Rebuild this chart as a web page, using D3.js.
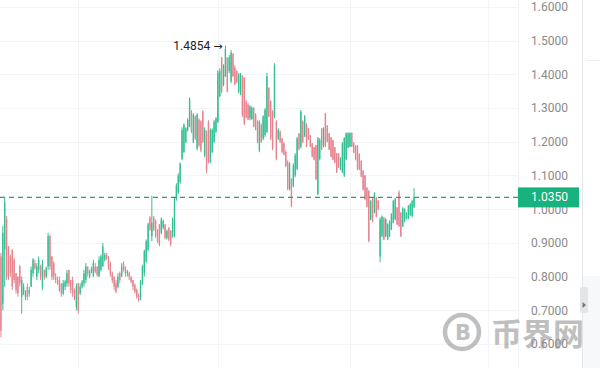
<!DOCTYPE html>
<html><head><meta charset="utf-8">
<script src="https://cdn.jsdelivr.net/npm/d3@7/dist/d3.min.js"></script>
<style>html,body{margin:0;padding:0;background:#fff;overflow:hidden}svg{display:block}</style>
</head><body>
<svg id="c" width="600" height="368"></svg>
<script>
// ---- data ----
const open = [
 .86,.72,.88,.97,.89,.86,.88,.85,.81,.80, .83,.74,.75,.74,.77,.75,.77,.81,.84,.80,
 .82,.83,.77,.82,.80,.83,.92,.86,.84,.80, .79,.79,.78,.75,.77,.78,.82,
 .79,.79,.76,.71,.78,.75,.77,.78,.79,.83, .80,.815,.80,.83,.83,.80,.82,.83,.85,.865,
 .86,.84,.81,.80,.78,.77,.81,.80,.84,.83, .81,.81,.80,.79,.775,.76,.745,
 .74,.78,.81,.845,.88,.975,.92,.975,.965,.94, .955,.93,.945,.955,.915,.945,.935,.92,.93,1.03,
 1.05,1.08,1.15,1.17,1.20,1.235,1.245,1.29,1.20,1.275, 1.18,1.265,1.26,1.29,1.16,1.23,1.26,
 1.14,1.17,1.20,1.23,1.26,1.335,1.45,1.37,1.395,1.45,
 1.41,1.38,1.46,1.42,1.41,1.35,1.345,1.395,1.39,1.32,
 1.31,1.27,1.268,1.30,1.28,1.26,1.175,1.25,1.21,1.22,
 1.23,1.36,1.32,1.29,1.275,1.26,1.21,1.23,
 1.21,1.195,1.17,1.14,1.06,1.09,1.07,1.10,1.12,1.225,
 1.185,1.26,1.215,1.25,1.24,1.22,1.196,
 1.184,1.19,1.045,1.15,1.24,1.19,1.285,1.248,1.225,1.213,
 1.205,1.184,1.166,1.166,
 1.118,1.11,1.10,1.148,1.183,1.186,1.226,1.196,1.188,1.188,
 1.164,1.143,1.114,1.10,1.064,1.055,.97,1.03,
 .99,1.034,1.025,.86,.92,.975,.92,.91,.92,.94,
 .96,.97,1.005,1.05,.99,.95,.965,
 .973,.974,.983,.98,1.006
];
const high = [
 .87,.95,1.035,.98,.89,.865,.88,.855,.81,.80, .835,.80,.78,.76,.78,.77,.83,.855,.85,.84,
 .86,.835,.85,.82,.83,.93,.925,.86,.845,.81, .80,.80,.78,.79,.79,.82,.82,
 .79,.80,.765,.78,.78,.78,.79,.82,.84,.83, .82,.83,.85,.84,.83,.86,.865,.90,.87,.87,
 .86,.845,.815,.80,.79,.81,.815,.84,.845,.83, .82,.815,.80,.79,.78,.765,.75,
 .79,.835,.88,.91,.96,.98,1.04,.98,.97,.94, .955,.976,.97,.955,.94,.947,.938,.976,1.036,1.077,
 1.107,1.139,1.243,1.255,1.243,1.27,1.332,1.294,1.285,1.279, 1.285,1.27,1.264,1.294,1.243,1.234,1.264,
 1.24,1.24,1.264,1.273,1.412,1.418,1.451,1.43,1.4854,1.451,
 1.457,1.472,1.463,1.427,1.412,1.404,1.404,1.398,1.392,1.323,
 1.315,1.309,1.305,1.303,1.285,1.264,1.264,1.255,1.279,1.30,
 1.404,1.362,1.323,1.294,1.433,1.264,1.24,1.234,
 1.211,1.199,1.175,1.145,1.139,1.092,1.136,1.166,1.214,1.226,
 1.294,1.264,1.279,1.255,1.24,1.22,1.196,
 1.184,1.19,1.214,1.211,1.24,1.243,1.285,1.249,1.226,1.214,
 1.205,1.184,1.166,1.166,
 1.154,1.199,1.214,1.228,1.228,1.228,1.228,1.199,1.19,1.19,
 1.166,1.145,1.116,1.101,1.065,1.056,1.027,1.033,
 1.05,1.036,1.027,.976,.982,.976,.973,.958,.967,.988,
 1.027,1.033,1.006,1.056,.991,1.006,1.003,
 .991,1.012,1.018,1.027,1.062
];
const low = [
 .62,.70,.77,.79,.79,.80,.76,.78,.75,.74, .77,.69,.745,.73,.73,.74,.77,.80,.82,.79,
 .81,.79,.76,.79,.795,.82,.82,.79,.79,.78, .775,.755,.74,.745,.76,.77,.77,
 .75,.74,.73,.70,.69,.745,.765,.77,.78,.80, .795,.81,.80,.81,.80,.80,.815,.83,.845,.85,
 .82,.80,.78,.76,.75,.765,.78,.80,.815,.80, .80,.79,.78,.76,.75,.735,.725,
 .73,.775,.80,.84,.875,.935,.905,.935,.915,.90, .89,.925,.94,.91,.91,.905,.89,.915,.917,1.025,
 1.045,1.075,1.145,1.166,1.196,1.23,1.243,1.226,1.196,1.205, 1.175,1.184,1.169,1.196,1.154,1.107,1.136,
 1.136,1.166,1.196,1.226,1.255,1.332,1.344,1.365,1.392,1.347,
 1.404,1.374,1.392,1.368,1.374,1.344,1.338,1.273,1.249,1.27,
 1.264,1.264,1.264,1.243,1.234,1.196,1.169,1.196,1.205,1.214,
 1.226,1.273,1.205,1.175,1.27,1.145,1.205,1.196,
 1.166,1.16,1.125,1.056,1.056,1.006,1.065,1.095,1.116,1.175,
 1.181,1.196,1.214,1.184,1.205,1.184,1.154,
 1.145,1.086,1.042,1.145,1.175,1.184,1.184,1.199,1.175,1.154,
 1.145,1.136,1.107,1.122,
 1.116,1.107,1.095,1.145,1.181,1.184,1.184,1.166,1.145,1.116,
 1.116,1.095,1.056,1.027,1.006,.902,.967,.961,
 .988,.976,.997,.843,.917,.908,.917,.908,.917,.938,
 .958,.967,.953,.947,.917,.947,.961,
 .97,.97,.98,.976,1.003
];
const close = [
 .64,.93,1.02,.80,.80,.81,.77,.79,.76,.75, .78,.79,.77,.75,.74,.76,.82,.85,.825,.83,
 .85,.80,.84,.80,.825,.92,.83,.80,.80,.79, .78,.76,.75,.78,.785,.81,.78,
 .76,.75,.735,.77,.70,.77,.785,.81,.83,.81, .815,.825,.84,.815,.805,.85,.86,.89,.865,.855,
 .83,.81,.79,.77,.755,.80,.79,.83,.82,.81, .815,.80,.785,.77,.755,.74,.73,
 .785,.83,.875,.905,.955,.94,.96,.94,.92,.905, .895,.97,.965,.915,.935,.91,.895,.97,1.03,1.07,
 1.10,1.135,1.235,1.25,1.24,1.265,1.325,1.23,1.28,1.21, 1.28,1.19,1.175,1.20,1.235,1.115,1.14,
 1.235,1.235,1.26,1.27,1.405,1.41,1.35,1.425,1.475,1.35,
 1.45,1.465,1.395,1.37,1.378,1.40,1.40,1.28,1.255,1.272,
 1.266,1.305,1.30,1.245,1.236,1.20,1.26,1.20,1.275,1.295,
 1.395,1.275,1.21,1.18,1.425,1.15,1.235,1.20,
 1.17,1.162,1.128,1.06,1.135,1.01,1.13,1.16,1.21,1.178,
 1.29,1.20,1.275,1.186,1.207,1.186,1.156,
 1.147,1.09,1.21,1.205,1.178,1.24,1.186,1.20,1.177,1.156,
 1.147,1.138,1.11,1.125,
 1.15,1.195,1.21,1.225,1.225,1.226,1.186,1.168,1.147,1.12,
 1.118,1.097,1.058,1.03,1.008,.905,1.024,.964,
 1.047,.978,.999,.97,.978,.91,.97,.955,.964,.985,
 1.024,1.03,.955,.95,.92,1.003,1.0,
 .988,1.01,1.015,1.024,1.035
];
const priceTicks = [0.6,0.7,0.8,0.9,1.0,1.1,1.2,1.3,1.4,1.5,1.6];
const timeGridIdx = [41, 115, 185, 258];
const lastPrice = 1.035;
const peakValue = 1.4854;
const watermarkText = "币界网";

if (!(open.length===high.length && high.length===low.length && low.length===close.length)) {
  console.error("length mismatch", open.length, high.length, low.length, close.length);
}
const N = close.length;
const peakIndex = d3.maxIndex(high);

// ---- layout ----
const svg = d3.select("#c");
const plotRight = 518;
const y = d3.scaleLinear().domain([0.6, 1.6]).range([344, 7]);
const x = d3.scaleLinear().domain([-0.5, N - 0.5]).range([0, 415]);
const step = x(1) - x(0);
const green = "#33bf92", red = "#e5838e";
const font = "Roboto, 'Noto Sans', sans-serif";

// grid
const grid = svg.append("g");
grid.selectAll("line.h").data(priceTicks).join("line")
  .attr("x1", 0).attr("x2", plotRight)
  .attr("y1", d => Math.round(y(d)) + 0.5).attr("y2", d => Math.round(y(d)) + 0.5)
  .attr("stroke", "#f3f4f6").attr("stroke-width", 1);
grid.selectAll("line.v").data(timeGridIdx).join("line")
  .attr("x1", d => Math.round(x(d)) + 0.5).attr("x2", d => Math.round(x(d)) + 0.5)
  .attr("y1", 0).attr("y2", 368)
  .attr("stroke", "#f3f4f6").attr("stroke-width", 1);
svg.append("line").attr("x1", plotRight + 0.5).attr("x2", plotRight + 0.5)
  .attr("y1", 0).attr("y2", 368).attr("stroke", "#f2f3f5");

// candles
const idx = d3.range(N);
const cg = svg.append("g");
cg.selectAll("line.w").data(idx).join("line")
  .attr("x1", i => x(i)).attr("x2", i => x(i))
  .attr("y1", i => y(high[i])).attr("y2", i => y(low[i]))
  .attr("stroke", i => close[i] >= open[i] ? green : red)
  .attr("stroke-width", 1);
const bw = Math.max(1.3, step * 0.72);
cg.selectAll("rect").data(idx).join("rect")
  .attr("x", i => x(i) - bw / 2)
  .attr("width", bw)
  .attr("y", i => y(Math.max(open[i], close[i])))
  .attr("height", i => Math.max(1, Math.abs(y(open[i]) - y(close[i]))))
  .attr("fill", i => close[i] >= open[i] ? green : red);

// last price dashed line
svg.append("line")
  .attr("x1", 0).attr("x2", plotRight)
  .attr("y1", y(lastPrice)).attr("y2", y(lastPrice))
  .attr("stroke", "#1fa27a").attr("stroke-width", 1.1)
  .attr("stroke-dasharray", "5,4");

// peak annotation
const ann = svg.append("text")
  .attr("x", x(peakIndex) - 3).attr("y", y(peakValue) + 4)
  .attr("text-anchor", "end")
  .attr("font-family", font).attr("font-size", 12)
  .attr("fill", "#222");
ann.append("tspan").text(d3.format(".4f")(peakValue) + " ");
ann.append("tspan").attr("font-family", "'DejaVu Sans', sans-serif").attr("font-size", 11).text("→");

// y axis
const axis = d3.axisRight(y).tickValues(priceTicks).tickFormat(d3.format(".4f"))
  .tickSize(0).tickPadding(0);
const ag = svg.append("g").attr("transform", "translate(531,0)").call(axis);
ag.select(".domain").remove();
ag.selectAll("text").attr("font-family", font)
  .attr("font-size", 12).attr("fill", "#8a8a8a");

// last price label
svg.append("rect").attr("x", 518).attr("y", y(lastPrice) - 10)
  .attr("width", 61).attr("height", 20).attr("fill", "#17b27d");
svg.append("text").attr("x", 531).attr("y", y(lastPrice))
  .attr("dy", "0.34em")
  .attr("font-family", font).attr("font-size", 12)
  .attr("fill", "#fff").text(d3.format(".4f")(lastPrice));

// right side panel
svg.append("line").attr("x1", 582.5).attr("x2", 582.5).attr("y1", 0).attr("y2", 368)
  .attr("stroke", "#e6e7ea");
svg.append("line").attr("x1", 586).attr("x2", 600).attr("y1", 60.5).attr("y2", 60.5)
  .attr("stroke", "#eeeff1");
svg.append("rect").attr("x", 583).attr("y", 276).attr("width", 17).attr("height", 92)
  .attr("fill", "#f7f8fa");
svg.append("rect").attr("x", 580).attr("y", 287).attr("width", 8).attr("height", 26)
  .attr("rx", 2).attr("fill", "#e4e5e8");
svg.append("path").attr("d", "M582.5,302 L586,305 L582.5,308 Z").attr("fill", "#777");

// watermark
const wm = svg.append("g").attr("opacity", 0.55);
wm.append("circle").attr("cx", 462).attr("cy", 332).attr("r", 17)
  .attr("fill", "none").attr("stroke", "#8c8c8c").attr("stroke-width", 4.5);
wm.append("text").attr("x", 463).attr("y", 332).attr("dy", "0.36em")
  .attr("text-anchor", "middle").attr("font-family", "'DejaVu Sans', sans-serif")
  .attr("font-weight", "bold").attr("font-size", 21).attr("fill", "#8c8c8c").text("B");
wm.append("text").attr("x", 491).attr("y", 345)
  .attr("font-family", "'Noto Sans CJK SC', sans-serif").attr("font-weight", "bold")
  .attr("font-size", 31).attr("fill", "#8c8c8c").text(watermarkText);
</script>
</body></html>
